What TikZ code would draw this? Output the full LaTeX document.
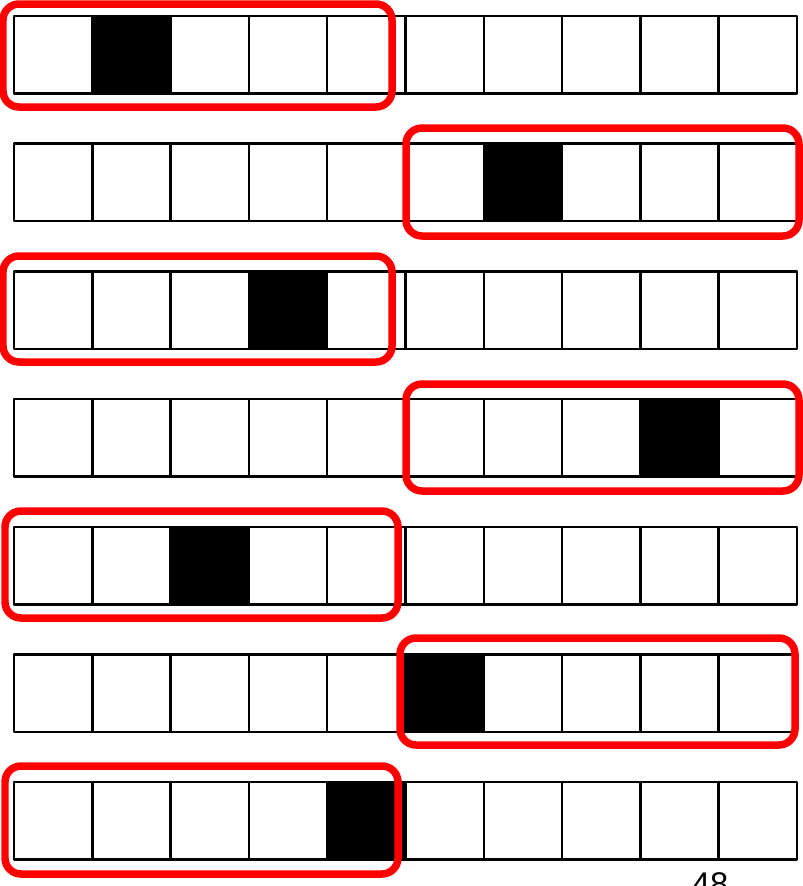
\documentclass[tikz,border=0pt]{standalone}
\usepackage{fontspec}
\setmainfont{Liberation Sans}
\begin{document}
\begin{tikzpicture}[x=0.03cm,y=-0.03cm,line join=round,
		cell/.style={draw=black,line width=2.1pt},
		window/.style={draw=red,line width=6.4pt,rounded corners=0.48cm}]
	\useasboundingbox (0,0) rectangle (802,886);
	% rows of ten cells, one black cell per row
	\foreach \r/\b in {0/1,1/6,2/3,3/8,4/2,5/5,6/4}{
		\pgfmathsetmacro\ytop{16+127.7*\r}
		\foreach \c in {0,...,9}\draw[cell] ({14+78.3*\c},\ytop) rectangle ++(78.3,77.5);
		\fill[draw,cell,fill=black] ({14+78.3*\b},\ytop) rectangle ++(78.3,77.5);
	}
	% red windows
	\foreach \xa/\ya/\xb/\yb in {3/4/392/107,406/128/799/236,3/256/392/362,406/384/799/491,5/511/398/618,400/638/795/745,5/766/398/874}
		\draw[window] (\xa,\ya) rectangle (\xb,\yb);
	\node[anchor=base,inner sep=0pt,font=\fontsize{28}{30}\selectfont] (pagenum) at (710,895) {48};
\end{tikzpicture}
\end{document}
